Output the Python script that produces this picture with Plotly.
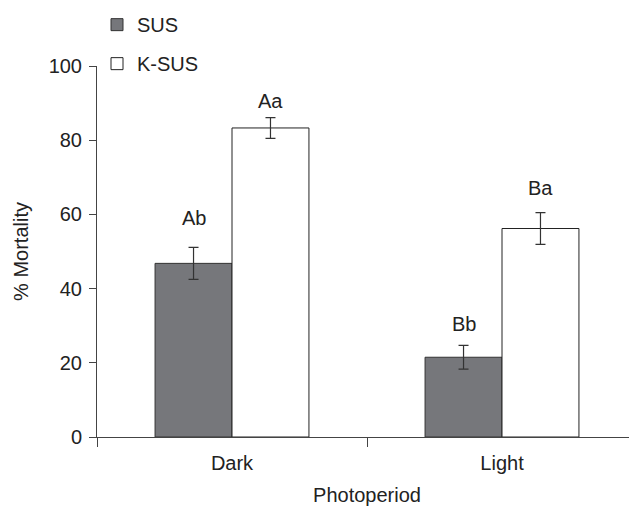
import plotly.graph_objects as go

categories = ["Dark", "Light"]
sus_values = [46.8, 21.5]
sus_err = [4.3, 3.2]
ksus_values = [83.3, 56.2]
ksus_err = [2.8, 4.3]
sus_labels = ["Ab", "Bb"]
sus_label_y = [59, 30.5]
ksus_labels = ["Aa", "Ba"]
ksus_label_y = [90.5, 67]
y_ticks = [0, 20, 40, 60, 80, 100]

FONT = "Liberation Sans, Arial, sans-serif"

fig = go.Figure()
fig.add_trace(go.Bar(
    name="SUS", x=categories, y=sus_values,
    marker=dict(color="#76777b", line=dict(color="#333333", width=1)),
    error_y=dict(type="data", array=sus_err, color="#333333", thickness=1.2, width=5),
    legendgroup="a",
))
fig.add_trace(go.Bar(
    name="K-SUS", x=categories, y=ksus_values,
    marker=dict(color="#ffffff", line=dict(color="#222222", width=1)),
    error_y=dict(type="data", array=ksus_err, color="#333333", thickness=1.2, width=5),
    legendgroup="b",
))

for c, t, yv in zip(categories, sus_labels, sus_label_y):
    fig.add_annotation(x=c, y=yv, text=t, showarrow=False, xshift=-38.5,
                       font=dict(size=20, color="#222222", family=FONT))
for c, t, yv in zip(categories, ksus_labels, ksus_label_y):
    fig.add_annotation(x=c, y=yv, text=t, showarrow=False, xshift=38.5,
                       font=dict(size=20, color="#222222", family=FONT))

# page body has an 8px default margin; compensate so the plot lands in place
fig.update_layout(
    width=637, height=507,
    margin=dict(l=89, r=8, t=58, b=78, autoexpand=False),
    paper_bgcolor="white", plot_bgcolor="white",
    barmode="group", bargap=0.43, bargroupgap=0,
    font=dict(family=FONT, size=20, color="#222222"),
    legend=dict(x=0.0, y=1.164, xanchor="left", yanchor="top",
                font=dict(size=20), tracegroupgap=10,
                bgcolor="rgba(0,0,0,0)", traceorder="grouped"),
    xaxis=dict(
        title=dict(text="Photoperiod", font=dict(size=20), standoff=14),
        showline=True, linecolor="#444444", linewidth=1,
        ticks="outside", ticklen=9, tickcolor="#444444", tickson="boundaries",
        ticklabelstandoff=8,
        showgrid=False, zeroline=False,
    ),
    yaxis=dict(
        title=dict(text="% Mortality", font=dict(size=20), standoff=14),
        range=[0, 100], tickvals=y_ticks,
        showline=True, linecolor="#444444", linewidth=1,
        ticks="outside", ticklen=7, tickcolor="#444444",
        ticklabelstandoff=3,
        showgrid=False, zeroline=False,
    ),
)

fig.write_html("out.html")
